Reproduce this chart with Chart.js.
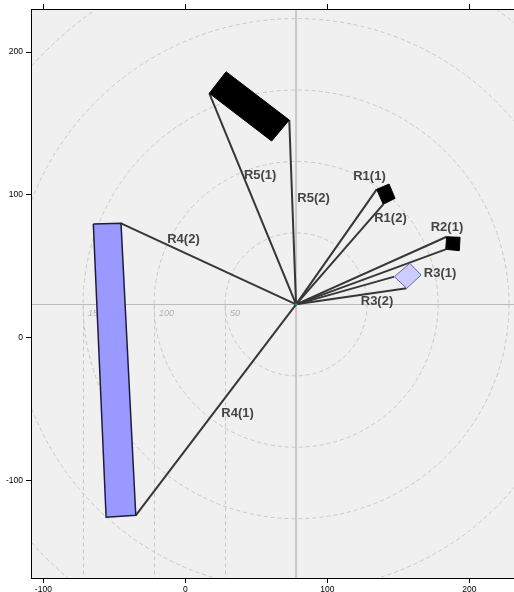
<!DOCTYPE html>
<html>
<head>
<meta charset="utf-8">
<script src="https://cdn.jsdelivr.net/npm/chart.js@4/dist/chart.umd.min.js"></script>
<style>
html,body{margin:0;padding:0;background:#fff;overflow:hidden;}
canvas{display:block;}
</style>
</head>
<body>
<canvas id="c" width="514" height="592"></canvas>
<script>
// ---- data ----
const xTicks = [-100, 0, 100, 200];
const yTicks = [-100, 0, 100, 200];
const xRange = [-108.7, 231.5];
const yRange = [-168.1, 230.1];

const originX = 78;
const originY = 23.4;

// vector end points (from the common origin)
const vectorNames = ['R1(1)','R1(2)','R2(1)','R2(2)','R3(1)','R3(2)','R4(1)','R4(2)','R5(1)','R5(2)'];
const vectorEndX  = [134.8, 139.4, 184.1, 183.4, 147.2, 155.9, -34.9, -45.3, 16.9, 73.2];
const vectorEndY  = [103.9,  93.4,  70.7,  61.9,  42.8,  34.6, -124.2, 80.1, 171.1, 152.4];

// shapes at vector ends (polygon corners)
const shapeNames = ['R1','R2','R3','R4','R5'];
const shapeX = [
  [134.8, 143.5, 147.7, 139.4],
  [184.1, 193.5, 193.0, 183.4],
  [147.2, 158.2, 166.0, 155.9],
  [-64.8, -45.3, -34.9, -55.8],
  [16.9, 28.7, 73.2, 60.8]
];
const shapeY = [
  [103.9, 107.6, 97.6, 93.4],
  [70.7, 70.3, 61.0, 61.9],
  [42.8, 52.1, 43.9, 34.6],
  [79.6, 80.1, -124.2, -125.6],
  [171.1, 186.2, 152.4, 137.7]
];

// text labels
const labelNames = ['R1(1)','R1(2)','R2(1)','R3(1)','R3(2)','R4(1)','R4(2)','R5(1)','R5(2)'];
const labelX = [129.7, 144.5, 184.3, 179.4, 135.0, 36.8, -1.3, 52.7, 90.3];
const labelY = [113.2,  83.5,  77.2,  45.3,  25.8, -52.6, 68.8, 113.9, 97.8];

// polar grid rings
const ringRadii = [50, 100, 150, 200, 250, 300];
const ringLabelRadii = [50, 100, 150];

// ---- styles ----
const shapeFill   = ['#000000', '#000000', '#ccccff', '#9999ff', '#000000'];
const shapeBorder = ['#000000', '#000000', '#6a6aa8', '#1c1c3c', '#000000'];
const shapeBorderW = [1, 1, 1, 1.5, 1];

const datasets = [];
shapeNames.forEach((n, i) => {
  const pts = shapeX[i].map((x, j) => ({x, y: shapeY[i][j]}));
  pts.push({x: shapeX[i][0], y: shapeY[i][0]});
  datasets.push({
    label: n, data: pts, showLine: true, fill: 'shape',
    backgroundColor: shapeFill[i], borderColor: shapeBorder[i], borderWidth: shapeBorderW[i],
    pointRadius: 0, tension: 0
  });
});
vectorNames.forEach((n, i) => {
  datasets.push({
    label: n, data: [{x: originX, y: originY}, {x: vectorEndX[i], y: vectorEndY[i]}],
    showLine: true, fill: false, borderColor: '#363636', borderWidth: 2,
    pointRadius: 0
  });
});

const decor = {
  id: 'decor',
  beforeDraw(chart) {
    const {ctx, chartArea: a} = chart;
    ctx.save();
    ctx.fillStyle = '#f0f0f0';
    ctx.fillRect(a.left, a.top, a.right - a.left, a.bottom - a.top);
    ctx.restore();
  },
  beforeDatasetsDraw(chart) {
    const {ctx, chartArea: a} = chart;
    const xs = chart.scales.x, ys = chart.scales.y;
    const cx = xs.getPixelForValue(originX), cy = ys.getPixelForValue(originY);
    ctx.save();
    ctx.beginPath();
    ctx.rect(a.left + 1, a.top + 1, a.right - a.left - 1, a.bottom - a.top - 1);
    ctx.clip();
    // center axes
    ctx.strokeStyle = '#c8c8c8';
    ctx.lineWidth = 2;
    ctx.beginPath(); ctx.moveTo(cx, a.top); ctx.lineTo(cx, a.bottom); ctx.stroke();
    ctx.strokeStyle = '#bcbcbc';
    ctx.lineWidth = 1;
    ctx.beginPath(); ctx.moveTo(a.left, Math.round(cy) + 0.5); ctx.lineTo(a.right, Math.round(cy) + 0.5); ctx.stroke();
    // rings
    ctx.setLineDash([4, 3]);
    ctx.strokeStyle = '#c8c8c8';
    ctx.lineWidth = 1;
    ringRadii.forEach(r => {
      const rx = xs.getPixelForValue(originX + r) - cx;
      const ry = cy - ys.getPixelForValue(originY + r);
      ctx.beginPath();
      ctx.ellipse(cx, cy, rx, ry, 0, 0, Math.PI * 2);
      ctx.stroke();
    });
    ringLabelRadii.forEach(r => {
      const px = Math.round(xs.getPixelForValue(originX - r)) + 0.5;
      ctx.beginPath(); ctx.moveTo(px, cy); ctx.lineTo(px, a.bottom); ctx.stroke();
    });
    ctx.setLineDash([]);
    ctx.fillStyle = '#b0b0b0';
    ctx.font = 'italic 9px "Liberation Sans", Arial, sans-serif';
    ctx.textBaseline = 'middle';
    ctx.textAlign = 'left';
    ringLabelRadii.forEach(r => {
      const px = xs.getPixelForValue(originX - r);
      ctx.fillText(String(r), px + 5, cy + 9);
    });
    ctx.restore();
  },
  afterDatasetsDraw(chart) {
    const {ctx} = chart;
    const xs = chart.scales.x, ys = chart.scales.y;
    ctx.save();
    ctx.fillStyle = '#444444';
    ctx.font = 'bold 13px "Liberation Sans", Arial, sans-serif';
    ctx.textAlign = 'center';
    ctx.textBaseline = 'middle';
    labelNames.forEach((t, i) => {
      ctx.fillText(t, xs.getPixelForValue(labelX[i]), ys.getPixelForValue(labelY[i]));
    });
    ctx.fillStyle = '#2a8a8a';
    ctx.beginPath();
    ctx.arc(xs.getPixelForValue(originX), ys.getPixelForValue(originY), 1.2, 0, Math.PI * 2);
    ctx.fill();
    ctx.restore();
  }
};

const tickFont = {family: '"Liberation Sans", Arial, sans-serif', size: 8.5};

new Chart(document.getElementById('c'), {
  type: 'scatter',
  data: {datasets},
  options: {
    responsive: false,
    devicePixelRatio: 1,
    animation: false,
    layout: {padding: 0},
    plugins: {legend: {display: false}, tooltip: {enabled: false}},
    scales: {
      x: {
        type: 'linear', position: 'bottom', min: xRange[0], max: xRange[1],
        afterBuildTicks: s => { s.ticks = xTicks.map(v => ({value: v})); },
        afterFit: s => { s.height = 14; },
        ticks: {color: '#000', font: tickFont, padding: 2, maxRotation: 0, autoSkip: false,
                callback: v => String(v)},
        grid: {drawOnChartArea: false, drawTicks: true, tickLength: 5, color: '#000'},
        border: {display: true, color: '#000', width: 1}
      },
      x2: {
        type: 'linear', position: 'top', min: xRange[0], max: xRange[1],
        afterBuildTicks: s => { s.ticks = xTicks.map(v => ({value: v})); },
        afterFit: s => { s.height = 9; },
        ticks: {display: false},
        grid: {drawOnChartArea: false, drawTicks: true, tickLength: 5, color: '#000'},
        border: {display: true, color: '#000', width: 1}
      },
      y: {
        type: 'linear', position: 'left', min: yRange[0], max: yRange[1],
        afterBuildTicks: s => { s.ticks = yTicks.map(v => ({value: v})); },
        afterFit: s => { s.width = 31; },
        ticks: {color: '#000', font: tickFont, padding: 3, autoSkip: false,
                callback: v => String(v)},
        grid: {drawOnChartArea: false, drawTicks: true, tickLength: 5, color: '#000'},
        border: {display: true, color: '#000', width: 1}
      }
    }
  },
  plugins: [decor]
});
</script>
</body>
</html>
